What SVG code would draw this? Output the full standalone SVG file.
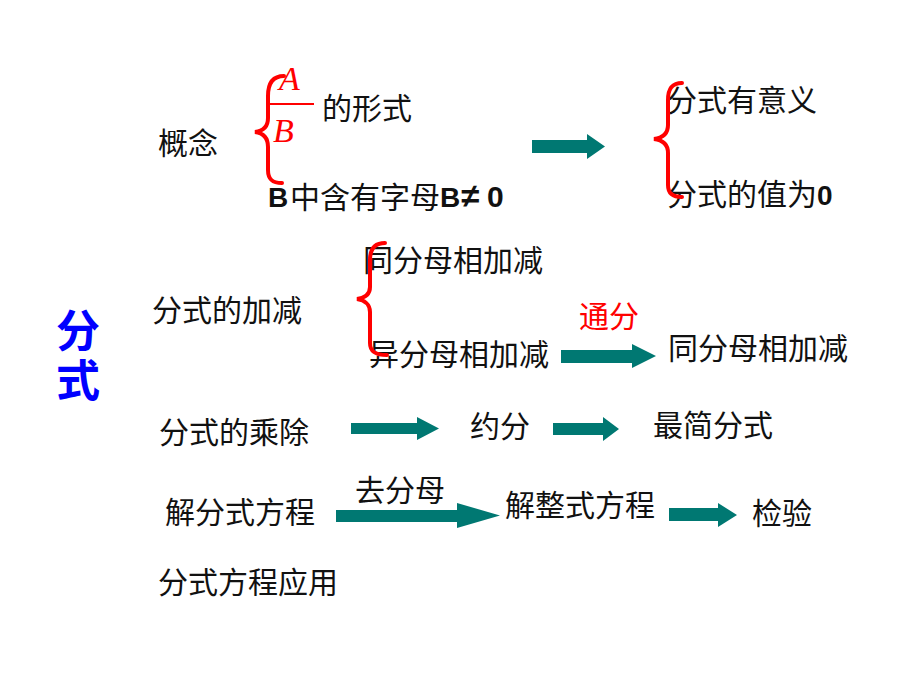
<svg xmlns="http://www.w3.org/2000/svg" width="920" height="690" viewBox="0 0 920 690">
<style>
.t{font-family:"Noto Sans CJK SC","Liberation Sans",sans-serif;font-size:30px;font-weight:normal;fill:#111}
.b{font-family:"Liberation Sans","Noto Sans CJK SC",sans-serif;font-weight:bold;font-size:28px;fill:#111}
.red{fill:#ff0000}
.brace{fill:none;stroke:#ff0000;stroke-width:4;stroke-linecap:round}
.arrow{fill:#007872}
.var{font-family:"Liberation Serif",serif;font-style:italic;font-size:34px;fill:#ff0000}
.title{font-family:"Noto Sans CJK SC",sans-serif;font-size:44px;font-weight:bold;fill:#0000ff}
</style>
<rect width="920" height="690" fill="#ffffff"/>
<g id="title">
<text class="title" x="78" y="308" writing-mode="vertical-rl" letter-spacing="6">分式</text>
</g>
<g id="concept">
<text class="t" x="158" y="154">概念</text>
</g>
<g id="fraction">
<text class="var" x="279" y="90">A</text>
<line x1="267" y1="104" x2="314" y2="104" stroke="#ff0000" stroke-width="2"/>
<text class="var" x="273" y="142">B</text>
<text class="t" x="322" y="119">的形式</text>
</g>
<g id="b-contains">
<text class="b" y="207"><tspan x="268">B</tspan><tspan x="290" y="208" class="t" font-size="28">中含有字母</tspan><tspan x="440" y="207">B</tspan><tspan x="461" font-size="33">≠</tspan><tspan x="487" font-size="30">0</tspan></text>
</g>
<g id="meaningful">
<text class="t" x="667" y="111">分式有意义</text>
</g>
<g id="value-zero">
<text class="t" x="667" y="205">分式的值为<tspan class="b" font-size="29">0</tspan></text>
</g>
<g id="add-sub">
<text class="t" x="152" y="321">分式的加减</text>
</g>
<g id="same-denominator">
<text class="t" x="363" y="271">同分母相加减</text>
</g>
<g id="diff-denominator">
<text class="t" x="369" y="365">异分母相加减</text>
</g>
<g id="common-denominator-label">
<text class="t red" x="579" y="327" font-size="29">通分</text>
</g>
<g id="same-denominator-2">
<text class="t" x="668" y="359">同分母相加减</text>
</g>
<g id="mul-div">
<text class="t" x="159" y="443">分式的乘除</text>
</g>
<g id="reduce">
<text class="t" x="470" y="437" font-size="29">约分</text>
</g>
<g id="simplest">
<text class="t" x="653" y="436">最简分式</text>
</g>
<g id="solve-frac-eq">
<text class="t" x="165" y="523">解分式方程</text>
</g>
<g id="clear-denominator-label">
<text class="t" x="355" y="501">去分母</text>
</g>
<g id="solve-int-eq">
<text class="t" x="505" y="516">解整式方程</text>
</g>
<g id="check">
<text class="t" x="752" y="524">检验</text>
</g>
<g id="application">
<text class="t" x="158" y="593">分式方程应用</text>
</g>
<g id="connectors">
<path class="brace" d="M284,76 C272,76 268,84 268,96 L268,118 C268,127 263,131 255,132 C263,133 268,137 268,147 L268,170 C268,179 272,183 282,183"/>
<path class="brace" d="M682,83 C671,83 668,90 668,100 L668,125 C668,134 662,138 654,139 C662,140 668,144 668,153 L668,185 C668,193 672,197 682,197"/>
<path class="brace" d="M385,243 C374,243 370,250 370,260 L370,287 C370,295 364,298 357,299 C364,300 370,304 370,312 L370,343 C370,352 376,355 387,355"/>
<polygon class="arrow" points="532,140 587,140 587,134 605,146.5 587,159 587,153 532,153"/>
<polygon class="arrow" points="561,350 632,350 632,344 656,356 632,368 632,363 561,363"/>
<polygon class="arrow" points="351,423 417,423 417,417 439,428.5 417,440 417,434 351,434"/>
<polygon class="arrow" points="553,423 603,423 603,417 619,429 603,441 603,435 553,435"/>
<polygon class="arrow" points="336,510 457,510 457,503 500,515.5 457,528 457,522 336,522"/>
<polygon class="arrow" points="669,508 718,508 718,503 737,515 718,527 718,521 669,521"/>
</g>
</svg>
